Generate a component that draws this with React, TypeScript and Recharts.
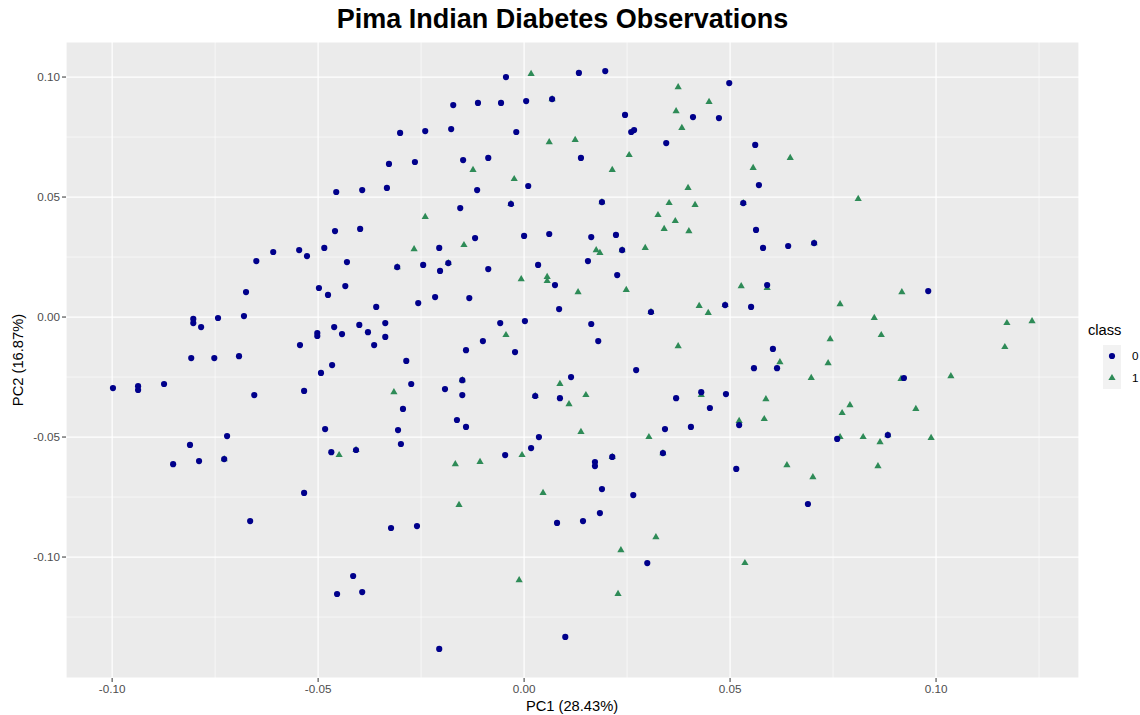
import { CartesianGrid, ReferenceLine, Scatter, ScatterChart, XAxis, YAxis } from "recharts";

// PCA scores (PC1, PC2) per outcome class
const class0: [number, number][] = [
  [-0.0609, 0.0271], [-0.0546, 0.0279], [-0.0527, 0.0254], [-0.0485, 0.0288], [-0.0044, 0.1],
  [-0.0172, 0.0883], [-0.0112, 0.0892], [-0.0056, 0.0892], [0.0005, 0.09], [0.0068, 0.0908],
  [-0.0301, 0.0767], [-0.024, 0.0775], [-0.0177, 0.0783], [-0.0019, 0.0771], [-0.0328, 0.0638],
  [-0.0265, 0.0646], [-0.0148, 0.0654], [-0.0087, 0.0663], [0.001, 0.0546], [-0.0456, 0.0521],
  [-0.0393, 0.0529], [-0.0333, 0.0538], [-0.0114, 0.0529], [-0.0155, 0.0454], [-0.0032, 0.0471],
  [-0.0459, 0.0358], [-0.0398, 0.0367], [-0.0206, 0.0288], [-0.0119, 0.0329], [0.0, 0.0338],
  [0.0061, 0.0346], [0.0133, 0.1017], [0.0197, 0.1025], [0.0498, 0.0975], [0.041, 0.0833],
  [0.0473, 0.0829], [0.0245, 0.0842], [0.026, 0.0771], [0.0267, 0.0779], [0.0345, 0.0725],
  [0.0561, 0.0717], [0.0138, 0.0663], [0.057, 0.055], [0.0189, 0.0479], [0.0532, 0.0475],
  [0.0163, 0.0333], [0.0223, 0.0342], [0.0238, 0.0279], [0.0563, 0.0363], [0.058, 0.0288],
  [0.0641, 0.0296], [0.0704, 0.0308], [-0.065, 0.0233], [-0.0675, 0.0104], [-0.0498, 0.0121],
  [-0.0743, -0.0004], [-0.068, 0.0004], [-0.0803, -0.0008], [-0.0803, -0.0025], [-0.0784, -0.0042],
  [-0.0502, -0.0067], [-0.0502, -0.0079], [-0.0544, -0.0117], [-0.0808, -0.0171], [-0.0752, -0.0171],
  [-0.0692, -0.0163], [-0.0493, -0.0233], [-0.0874, -0.0279], [-0.0998, -0.0296], [-0.0937, -0.0288],
  [-0.0937, -0.0304], [-0.0655, -0.0325], [-0.0534, -0.0308], [-0.0721, -0.0496], [-0.0811, -0.0533],
  [-0.0852, -0.0613], [-0.0789, -0.06], [-0.0728, -0.0592], [-0.043, 0.0229], [-0.0308, 0.0208],
  [-0.0245, 0.0217], [-0.0204, 0.0192], [-0.0184, 0.0225], [-0.0087, 0.02], [0.0034, 0.0217],
  [0.0075, 0.0133], [-0.0476, 0.0092], [-0.0434, 0.0129], [-0.0359, 0.0042], [-0.0257, 0.0058],
  [-0.0216, 0.0083], [-0.0133, 0.0079], [0.0085, 0.0033], [-0.0461, -0.0042], [-0.0442, -0.0071],
  [-0.04, -0.0033], [-0.0379, -0.0063], [-0.0337, -0.0025], [-0.0337, -0.0083], [-0.0364, -0.0117],
  [-0.0058, -0.0025], [0.0002, -0.0017], [-0.01, -0.01], [-0.0141, -0.0138], [-0.0022, -0.0146],
  [-0.0466, -0.02], [-0.0286, -0.0183], [-0.015, -0.0263], [-0.0274, -0.0279], [-0.0192, -0.03],
  [-0.015, -0.0325], [0.0114, -0.025], [0.0027, -0.0329], [0.0087, -0.0338], [-0.0294, -0.0383],
  [-0.0163, -0.0429], [-0.0141, -0.0458], [-0.0483, -0.0467], [-0.0306, -0.0471], [0.0036, -0.05],
  [0.0017, -0.0546], [-0.0299, -0.0529], [-0.0468, -0.0563], [-0.0408, -0.0554], [-0.0046, -0.0575],
  [0.0155, 0.0233], [0.0226, 0.0175], [0.0308, 0.0021], [0.0488, 0.005], [0.059, 0.0133],
  [0.0551, 0.0042], [0.0163, -0.0029], [0.018, -0.01], [0.0272, -0.0221], [0.043, -0.0313],
  [0.049, -0.0321], [0.0369, -0.0338], [0.0451, -0.0379], [0.0604, -0.0133], [0.0614, -0.0213],
  [0.0558, -0.0213], [0.0522, -0.045], [0.0342, -0.0467], [0.0405, -0.0458], [0.0337, -0.0567],
  [0.0172, -0.0604], [0.0172, -0.0621], [0.0214, -0.0583], [0.0515, -0.0633], [0.0981, 0.0108],
  [0.0922, -0.0254], [0.076, -0.0508], [0.0883, -0.0492], [-0.0534, -0.0733], [-0.0665, -0.085],
  [-0.0323, -0.0879], [-0.026, -0.0871], [0.008, -0.0858], [-0.0415, -0.1079], [-0.0454, -0.1154],
  [-0.0393, -0.1146], [-0.0206, -0.1383], [0.01, -0.1333], [0.0189, -0.0717], [0.0265, -0.0742],
  [0.0689, -0.0779], [0.0184, -0.0817], [0.0143, -0.085], [0.0299, -0.1025],
];

const class1: [number, number][] = [
  [0.0017, 0.1013], [0.0068, 0.0908], [0.0061, 0.0729], [0.0124, 0.0738], [-0.0124, 0.0613],
  [-0.0024, 0.0575], [-0.0032, 0.0471], [-0.024, 0.0417], [-0.0267, 0.0283], [-0.0146, 0.03],
  [0.0374, 0.0958], [0.0449, 0.0896], [0.0369, 0.0858], [0.0383, 0.0788], [0.0255, 0.0675],
  [0.0646, 0.0663], [0.0214, 0.0613], [0.0556, 0.0621], [0.0398, 0.0538], [0.0189, 0.0479],
  [0.0352, 0.0475], [0.0415, 0.0467], [0.0532, 0.0475], [0.0325, 0.0425], [0.0367, 0.04],
  [0.034, 0.0367], [0.04, 0.0358], [0.0175, 0.0279], [0.0184, 0.0267], [0.0238, 0.0279],
  [0.0294, 0.0288], [0.0704, 0.0308], [0.0811, 0.0492], [-0.0728, -0.0592], [-0.0308, 0.0208],
  [-0.0184, 0.0225], [-0.0007, 0.0158], [0.0056, 0.0167], [0.0056, 0.015], [0.0131, 0.0104],
  [-0.0044, -0.0075], [-0.015, -0.0263], [-0.0316, -0.0313], [0.0027, -0.0329], [0.0087, -0.0279],
  [0.0109, -0.0363], [-0.0449, -0.0575], [-0.0408, -0.0554], [-0.0167, -0.0613], [-0.0107, -0.0604],
  [-0.0005, -0.0575], [0.0248, 0.0113], [0.0308, 0.0021], [0.0425, 0.0046], [0.0447, 0.0017],
  [0.0488, 0.005], [0.0527, 0.0129], [0.059, 0.0121], [0.0374, -0.0121], [0.015, -0.0325],
  [0.0138, -0.0479], [0.043, -0.0325], [0.0621, -0.0188], [0.0697, -0.0254], [0.0743, -0.0092],
  [0.0738, -0.0192], [0.0587, -0.0342], [0.0583, -0.0425], [0.0522, -0.0433], [0.0303, -0.05],
  [0.0337, -0.0567], [0.0214, -0.0583], [0.0638, -0.0617], [0.0917, 0.0104], [0.0767, 0.0054],
  [0.085, -0.0004], [0.0867, -0.0075], [0.1172, -0.0025], [0.1233, -0.0017], [0.1167, -0.0125],
  [0.0915, -0.0258], [0.1036, -0.0246], [0.0791, -0.0367], [0.0772, -0.04], [0.0951, -0.0383],
  [0.0767, -0.05], [0.0823, -0.05], [0.0883, -0.0492], [0.0864, -0.0521], [0.0988, -0.0504],
  [0.0859, -0.0621], [0.0701, -0.0667], [0.0046, -0.0733], [-0.0158, -0.0783], [-0.0012, -0.1096],
  [0.032, -0.0917], [0.0235, -0.0971], [0.0536, -0.1025], [0.0228, -0.1154],
];

const pc1Ticks = [-0.1, -0.05, 0, 0.05, 0.1];
const pc2Ticks = [-0.1, -0.05, 0, 0.05, 0.1];
const pc1Minor = [-0.075, -0.025, 0.025, 0.075, 0.125];
const pc2Minor = [-0.125, -0.075, -0.025, 0.025, 0.075];

const NAVY = "#00008B";
const GREEN = "#2E8B57";
const FONT = "'Liberation Sans', Arial, Helvetica, sans-serif";

const toRows = (pts: [number, number][]) => pts.map(([pc1, pc2]) => ({ pc1, pc2 }));

const Dot = (p: any) => <circle cx={p.cx} cy={p.cy} r={3.1} fill={NAVY} />;

const Tri = (p: any) => {
  const half = 3.6;
  const h = 6.2;
  const pts = `${p.cx},${p.cy - (h * 2) / 3} ${p.cx - half},${p.cy + h / 3} ${p.cx + half},${p.cy + h / 3}`;
  return <polygon points={pts} fill={GREEN} />;
};

const fmt = (v: number) => v.toFixed(2);

export default function App() {
  return (
    <div
      style={{
        position: "absolute",
        left: 0,
        top: 0,
        width: 1140,
        height: 715,
        background: "#fff",
        fontFamily: FONT,
        overflow: "hidden",
      }}
    >
      <div
        style={{
          position: "absolute",
          top: 4,
          left: 0,
          width: 1125,
          textAlign: "center",
          fontSize: 27,
          fontWeight: 700,
          color: "#000",
        }}
      >
        Pima Indian Diabetes Observations
      </div>
      <ScatterChart width={1140} height={715} margin={{ top: 42, right: 61, bottom: 0, left: 0 }}>
        <CartesianGrid stroke="#fff" strokeWidth={1.2} fill="#EBEBEB" />
        {pc1Minor.map((v) => (
          <ReferenceLine key={`x${v}`} x={v} stroke="#fff" strokeWidth={0.6} />
        ))}
        {pc2Minor.map((v) => (
          <ReferenceLine key={`y${v}`} y={v} stroke="#fff" strokeWidth={0.6} />
        ))}
        <XAxis
          dataKey="pc1"
          type="number"
          domain={[-0.1112, 0.1347]}
          allowDataOverflow
          ticks={pc1Ticks}
          interval={0}
          tickFormatter={fmt}
          tick={{ fill: "#4D4D4D", fontSize: 11.7, fontFamily: FONT }}
          tickLine={{ stroke: "#333", strokeWidth: 1 }}
          axisLine={false}
          tickSize={4}
          tickMargin={3}
          height={37}
        />
        <YAxis
          dataKey="pc2"
          type="number"
          domain={[-0.1504, 0.1146]}
          allowDataOverflow
          ticks={pc2Ticks}
          interval={0}
          tickFormatter={fmt}
          tick={{ fill: "#4D4D4D", fontSize: 11.7, fontFamily: FONT }}
          tickLine={{ stroke: "#333", strokeWidth: 1 }}
          axisLine={false}
          tickSize={4}
          tickMargin={2}
          width={66}
        />
        <Scatter name="1" data={toRows(class1)} shape={Tri} isAnimationActive={false} />
        <Scatter name="0" data={toRows(class0)} shape={Dot} isAnimationActive={false} />
      </ScatterChart>

      <div
        style={{
          position: "absolute",
          left: 572,
          top: 706,
          transform: "translate(-50%, -50%)",
          fontSize: 14.7,
          color: "#000",
          whiteSpace: "nowrap",
        }}
      >
        PC1 (28.43%)
      </div>
      <div
        style={{
          position: "absolute",
          left: 18,
          top: 360,
          transform: "translate(-50%, -50%) rotate(-90deg)",
          fontSize: 14.7,
          color: "#000",
          whiteSpace: "nowrap",
        }}
      >
        PC2 (16.87%)
      </div>

      <svg
        width={1140}
        height={715}
        style={{ position: "absolute", left: 0, top: 0, pointerEvents: "none" }}
        fontFamily={FONT}
      >
        <text x={1088} y={335} fontSize={14.7} fill="#000">
          class
        </text>
        <rect x={1103} y={345} width={18} height={22} fill="#F2F2F2" />
        <rect x={1103} y={367} width={18} height={22} fill="#F2F2F2" />
        <circle cx={1112} cy={356} r={3.1} fill={NAVY} />
        <polygon points="1112,373.9 1108.4,380.1 1115.6,380.1" fill={GREEN} />
        <text x={1132} y={360} fontSize={11.7} fill="#000">
          0
        </text>
        <text x={1132} y={382} fontSize={11.7} fill="#000">
          1
        </text>
      </svg>
    </div>
  );
}
